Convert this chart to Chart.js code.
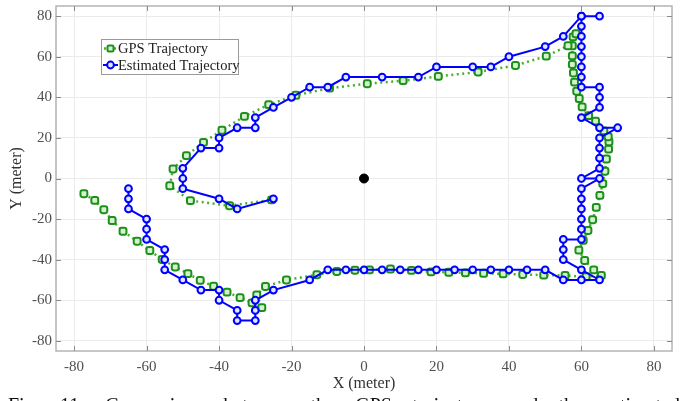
<!DOCTYPE html>
<html lang="en">
<head>
<meta charset="UTF-8">
<title>GPS vs Estimated Trajectory</title>
<script src="https://cdn.jsdelivr.net/npm/chart.js"></script>
<style>
  html, body { margin: 0; padding: 0; background: #fff; }
  #wrap { position: relative; width: 687px; height: 401px; overflow: hidden; }
  #chart { position: absolute; left: 0; top: 0; }
  #caption { position: absolute; left: 8px; width: 672px; top: 393px; height: 60px;
    font: 20px "Liberation Serif", "DejaVu Serif", serif; color: #111;
    text-align: justify; text-align-last: justify; line-height: 24px; }
</style>
</head>
<body>
<div id="wrap">
  <canvas id="chart" width="687" height="401"></canvas>
  <div id="caption">Fig. 11: Comparison between the GPS trajectory and the estimated</div>
</div>
<script>
// axis ticks
const xTicks = [-80, -60, -40, -20, 0, 20, 40, 60, 80];
const yTicks = [-80, -60, -40, -20, 0, 20, 40, 60, 80];

// GPS trajectory (green, dotted)
const gpsX = [-77.3, -74.3, -71.8, -69.5, -66.5, -62.6, -59.1, -55.7, -52.1, -48.6,
  -45.2, -41.5, -37.8, -34.2, -30.9, -28.2, -29.6, -27.2, -21.4, -13,
  -7.5, -2.5, 1.5, 7.3, 13.1, 18.5, 23.4, 28, 33, 38.4,
  43.8, 49.6, 55.5, 61.3, 65.5, 63.4, 60.9, 59.3, 60.5, 61.8,
  63.1, 64.1, 65.1, 65.9, 66.5, 66.9, 67.5, 67.6, 67.4, 66.2,
  63.9, 62, 60.2, 59.4, 58.7, 58.1, 57.8, 57.5, 57.5, 57.5,
  57.7, 58.5, 56.3, 50.3, 41.8, 31.5, 20.5, 10.8, 0.9, -9.5,
  -18.8, -26.3, -33, -39.2, -44.3, -49, -52.7, -53.6, -47.9, -37.1, -25.5];
const gpsY = [-7.5, -10.8, -15.4, -20.7, -26, -30.9, -35.5, -39.9, -43.6, -46.9,
  -50.2, -53.1, -56, -58.7, -61.3, -63.6, -57.4, -53.2, -50, -47.4,
  -45.8, -45.2, -45, -44.6, -45.3, -46, -46.2, -46.5, -46.7, -47,
  -47.3, -47.6, -47.8, -48.4, -47.8, -45, -40.4, -35.3, -30.5, -25.6,
  -20.3, -14.2, -8.3, -2.5, 3.6, 9.6, 14.5, 18.1, 20.6, 23.5,
  28.3, 31, 35.3, 39.4, 43, 47.5, 52, 56.2, 60.4, 65.4,
  69.8, 71.3, 65.4, 60.3, 55.7, 52.5, 50.3, 48.2, 46.7, 44.5,
  41, 36.4, 30.6, 23.8, 17.8, 11.3, 4.7, -3.6, -10.9, -13.4, -10.5];

// Estimated trajectory (blue, solid)
const estX = [-25, -35, -40, -50, -50, -50, -45, -40, -40, -35,
  -30, -30, -25, -20, -15, -10, -5, 5, 15, 20,
  30, 35, 40, 50, 55, 60, 65, 60, 60, 60,
  60, 60, 60, 60, 60, 65, 65, 65, 60, 65,
  70, 65, 65, 65, 65, 60, 65, 60, 60, 60,
  60, 60, 60, 55, 55, 55, 60, 65, 60, 55,
  50, 45, 40, 35, 30, 25, 20, 15, 10, 5,
  0, -5, -10, -15, -25, -30, -30, -30, -35, -35,
  -40, -40, -45, -50, -55, -55, -55, -60, -60, -60,
  -65, -65, -65];
const estY = [-10, -15, -10, -5, 0, 5, 15, 15, 20, 25,
  25, 30, 35, 40, 45, 45, 50, 50, 50, 55,
  55, 55, 60, 65, 70, 80, 80, 80, 75, 70,
  65, 60, 55, 50, 45, 45, 40, 35, 30, 25,
  25, 20, 15, 10, 5, 0, 0, -5, -10, -15,
  -20, -25, -30, -30, -35, -40, -45, -50, -50, -50,
  -45, -45, -45, -45, -45, -45, -45, -45, -45, -45,
  -45, -45, -45, -50, -55, -60, -65, -70, -70, -65,
  -60, -55, -55, -50, -45, -40, -35, -30, -25, -20,
  -15, -10, -5];

// reference point at origin
const originX = [0];
const originY = [0];

const serif = '"Liberation Serif", "DejaVu Serif", serif';
const GREEN_LINE = '#46b02c', GREEN_MARK = '#1c8f1c', GREEN_FILL = '#d6f2cc';
const BLUE = '#0000ff', BLUE_FILL = '#dfe6ff';

const toPts = (xs, ys) => xs.map((x, i) => ({ x: x, y: ys[i] }));

// frame with inward ticks on all four sides + legend inside plot
const framePlugin = {
  id: 'frame',
  beforeDatasetsDraw(chart) {
    const { ctx, chartArea: a, scales: { x, y } } = chart;
    ctx.save();
    ctx.strokeStyle = '#b4b4b4';
    ctx.lineWidth = 1.5;
    ctx.strokeRect(a.left, a.top, a.right - a.left, a.bottom - a.top);
    ctx.lineWidth = 1;
    ctx.strokeStyle = '#8a8a8a';
    ctx.beginPath();
    xTicks.forEach(v => {
      const px = Math.round(x.getPixelForValue(v)) + 0.5;
      ctx.moveTo(px, a.bottom); ctx.lineTo(px, a.bottom - 5);
      ctx.moveTo(px, a.top); ctx.lineTo(px, a.top + 5);
    });
    yTicks.forEach(v => {
      const py = Math.round(y.getPixelForValue(v)) + 0.5;
      ctx.moveTo(a.left, py); ctx.lineTo(a.left + 5, py);
      ctx.moveTo(a.right, py); ctx.lineTo(a.right - 5, py);
    });
    ctx.stroke();
    ctx.restore();
  },
  afterDraw(chart) {
    const { ctx, chartArea: a } = chart;
    const bx = a.left + 45, by = a.top + 33, bw = 137, bh = 35;
    ctx.save();
    ctx.fillStyle = '#fff';
    ctx.fillRect(bx, by, bw, bh);
    ctx.strokeStyle = '#9a9a9a';
    ctx.lineWidth = 1;
    ctx.strokeRect(bx + 0.5, by + 0.5, bw, bh);

    // GPS entry
    let ly = by + 9.5;
    ctx.strokeStyle = GREEN_LINE; ctx.lineWidth = 2.5; ctx.setLineDash([2, 3]);
    ctx.beginPath(); ctx.moveTo(bx + 3, ly); ctx.lineTo(bx + 16, ly); ctx.stroke();
    ctx.setLineDash([]);
    ctx.fillStyle = GREEN_FILL; ctx.strokeStyle = GREEN_MARK; ctx.lineWidth = 2;
    ctx.beginPath(); ctx.roundRect(bx + 6.5, ly - 3, 6, 6, 1.5); ctx.fill(); ctx.stroke();

    // Estimated entry
    let ly2 = by + 26;
    ctx.strokeStyle = BLUE; ctx.lineWidth = 2;
    ctx.beginPath(); ctx.moveTo(bx + 2, ly2); ctx.lineTo(bx + 17, ly2); ctx.stroke();
    ctx.fillStyle = BLUE_FILL;
    ctx.beginPath(); ctx.arc(bx + 9.5, ly2, 3.4, 0, Math.PI * 2); ctx.fill(); ctx.stroke();

    ctx.fillStyle = '#222';
    ctx.font = '14.5px ' + serif;
    ctx.textBaseline = 'middle';
    ctx.fillText('GPS Trajectory', bx + 17, ly + 1);
    ctx.fillText('Estimated Trajectory', bx + 17, ly2 + 1);
    ctx.restore();
  }
};

new Chart(document.getElementById('chart'), {
  type: 'scatter',
  data: {
    datasets: [
      {
        label: 'Estimated Trajectory',
        data: toPts(estX, estY),
        showLine: true,
        borderColor: BLUE,
        borderWidth: 2,
        pointRadius: 3.4,
        pointBorderWidth: 2,
        pointBorderColor: BLUE,
        pointBackgroundColor: BLUE_FILL,
        order: 1
      },
      {
        label: 'GPS Trajectory',
        data: toPts(gpsX, gpsY),
        showLine: true,
        borderColor: GREEN_LINE,
        borderWidth: 2.5,
        borderDash: [2, 3.5],
        pointStyle: 'rectRounded',
        pointRadius: 4,
        pointBorderWidth: 2,
        pointBorderColor: GREEN_MARK,
        pointBackgroundColor: GREEN_FILL,
        order: 2
      },
      {
        label: 'origin',
        data: toPts(originX, originY),
        pointRadius: 4.5,
        pointBackgroundColor: '#000',
        pointBorderColor: '#000',
        order: 0
      }
    ]
  },
  options: {
    responsive: false,
    animation: false,
    layout: { padding: { left: 0, right: 15, top: 4, bottom: 0 } },
    plugins: { legend: { display: false }, tooltip: { enabled: false } },
    scales: {
      x: {
        type: 'linear', min: -85, max: 85,
        afterBuildTicks: s => { s.ticks = xTicks.map(v => ({ value: v })); },
        afterFit: s => { s.height = 50; s.paddingLeft = 0; s.paddingRight = 0; },
        grid: { color: '#ebebeb', drawTicks: false },
        border: { display: false },
        ticks: { padding: 7, color: '#505050', font: { family: serif, size: 15 } },
        title: { display: true, text: 'X (meter)', color: '#333', font: { family: serif, size: 16 }, padding: { top: 0, bottom: 8 } }
      },
      y: {
        type: 'linear', min: -85, max: 85,
        afterBuildTicks: s => { s.ticks = yTicks.map(v => ({ value: v })); },
        afterFit: s => { s.width = 56; s.paddingTop = 0; s.paddingBottom = 0; },
        grid: { color: '#ebebeb', drawTicks: false },
        border: { display: false },
        ticks: { padding: 4, color: '#505050', font: { family: serif, size: 15 } },
        title: { display: true, text: 'Y (meter)', color: '#333', font: { family: serif, size: 16 }, padding: { top: 7, bottom: 0 } }
      }
    }
  },
  plugins: [framePlugin]
});
</script>
</body>
</html>
